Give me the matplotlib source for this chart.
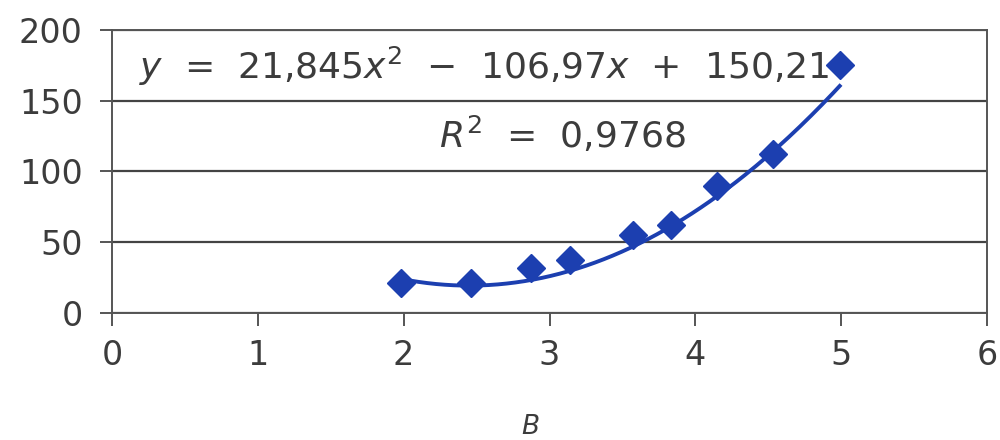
import numpy as np
import matplotlib.pyplot as plt

plt.rcParams['font.family'] = ['DejaVu Sans']
plt.rcParams['mathtext.fontset'] = 'dejavusans'

# measured points
x_vals = [1.98, 2.46, 2.87, 3.14, 3.57, 3.83, 4.15, 4.53, 4.99]
y_vals = [21, 21, 32, 37, 55, 62, 90, 112, 175]

# quadratic trend line coefficients (a, b, c)
coef = [21.845, -106.97, 150.21]
r2 = 0.9768

x_ticks = [0, 1, 2, 3, 4, 5, 6]
y_ticks = [0, 50, 100, 150, 200]

blue = '#1c3fb0'
grey = '#3c3c3c'

fig = plt.figure(figsize=(10, 4.4), dpi=100)
ax = fig.add_axes([0.112, 0.289, 0.875, 0.643])

xs = np.linspace(min(x_vals), max(x_vals), 200)
ax.plot(xs, np.polyval(coef, xs), color=blue, lw=2.8, zorder=3)
ax.plot(x_vals, y_vals, 'D', color=blue, ms=14, zorder=4)

ax.set_xlim(0, 6)
ax.set_ylim(0, 200)
ax.set_xticks(x_ticks)
ax.set_yticks(y_ticks)
ax.yaxis.grid(True, color='#444444', lw=1.6)
for s in ax.spines.values():
    s.set_color('#555555')
    s.set_linewidth(1.4)
ax.tick_params(colors='#555555', labelcolor=grey, labelsize=24, length=9, width=1.4)
ax.tick_params(axis='x', pad=10)
ax.tick_params(axis='y', pad=12)

eq = r'$y$  =  {:.3f}$x^2$  −  {:.2f}$x$  +  {:.2f}'.format(coef[0], -coef[1], coef[2]).replace('.', ',')
ax.text(2.55, 174, eq, fontsize=26, color=grey, ha='center', va='center')
ax.text(3.09, 126, r'$R^2$  =  ' + f'{r2:.4f}'.replace('.', ','), fontsize=26, color=grey,
        ha='center', va='center')

fig.text(0.53, 0.03, 'B', fontsize=19, style='italic', color=grey, ha='center', va='center')

fig.savefig('out.png', dpi=100)
